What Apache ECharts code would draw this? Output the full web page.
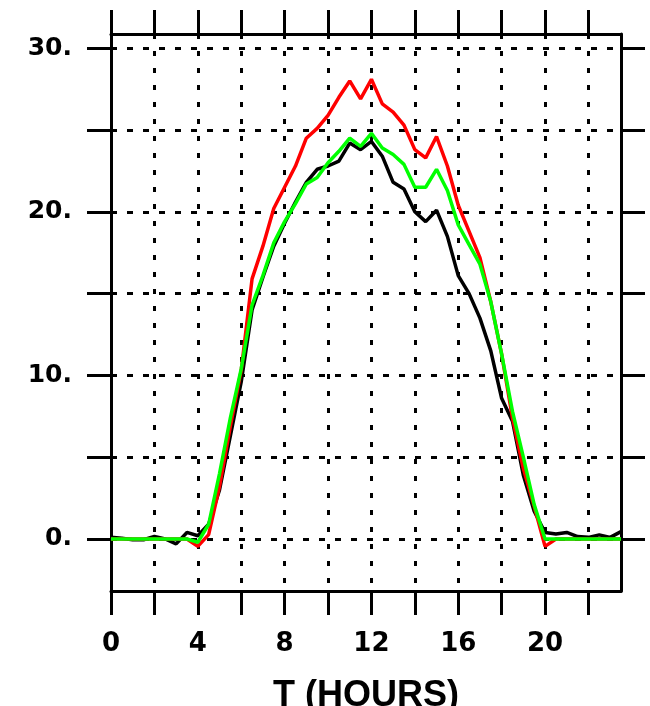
<!DOCTYPE html>
<html>
<head>
<meta charset="utf-8">
<script src="https://cdn.jsdelivr.net/npm/echarts@6/dist/echarts.min.js"></script>
<style>
  html, body { margin: 0; padding: 0; background: #fff; }
  #chart { width: 650px; height: 706px; }
</style>
</head>
<body>
<div id="chart"></div>
<script>
// Half-hourly times of day (hours)
const hours = [
  0, 0.5, 1, 1.5, 2, 2.5, 3, 3.5, 4, 4.5, 5, 5.5, 6, 6.5, 7, 7.5,
  8, 8.5, 9, 9.5, 10, 10.5, 11, 11.5, 12, 12.5, 13, 13.5, 14, 14.5, 15, 15.5,
  16, 16.5, 17, 17.5, 18, 18.5, 19, 19.5, 20, 20.5, 21, 21.5, 22, 22.5, 23, 23.5
];

const blackSeries = [
  0.1, 0.05, -0.05, -0.05, 0.15, 0.0, -0.3, 0.4, 0.2, 0.9, 3.0, 6.3, 9.6, 14.0, 16.0, 17.9,
  19.3, 20.6, 21.8, 22.6, 22.8, 23.1, 24.2, 23.8, 24.3, 23.4, 21.8, 21.4, 20.0, 19.4, 20.1, 18.5,
  16.1, 15.0, 13.5, 11.5, 8.6, 7.2, 3.9, 1.7, 0.4, 0.3, 0.4, 0.15, 0.1, 0.25, 0.1, 0.45
];

const redSeries = [
  0, 0, 0, 0, 0, 0, 0, 0, -0.45, 0.27, 3.2, 6.9, 10.3, 15.9, 17.9, 20.2,
  21.5, 22.8, 24.5, 25.1, 25.9, 27.0, 28.0, 26.9, 28.1, 26.6, 26.1, 25.3, 23.8, 23.3, 24.6, 22.8,
  20.4, 18.8, 17.2, 14.5, 11.3, 7.4, 4.3, 2.0, -0.45, 0, 0, 0, 0, 0, 0, 0
];

const greenSeries = [
  0, 0, 0, 0, 0, 0, 0, 0, -0.2, 0.9, 4.0, 7.4, 10.4, 14.3, 16.1, 18.1,
  19.4, 20.5, 21.7, 22.1, 23.0, 23.7, 24.5, 24.0, 24.8, 23.9, 23.5, 22.9, 21.5, 21.5, 22.6, 21.3,
  19.2, 18.0, 16.8, 14.5, 11.3, 7.8, 5.0, 2.1, 0, 0, 0, 0, 0, 0, 0, 0
];

// Tick positions and labelled values
const xTicks = [0, 2, 4, 6, 8, 10, 12, 14, 16, 18, 20, 22];
const xLabels = [0, 4, 8, 12, 16, 20];
const yTicks = [0, 5, 10, 15, 20, 25, 30];
const yLabels = [0, 10, 20, 30];

const xRange = [0, 23.5];
const yRange = [-3.18, 30.87];

const pairs = (vals) => hours.map((h, i) => [h, vals[i]]);

const frameLine = { show: true, onZero: false, lineStyle: { color: '#000', width: 3 } };
const tickStyle = { length: 24, lineStyle: { color: '#000', width: 3 } };
const labelFont = { color: '#000', fontFamily: 'DejaVu Sans', fontWeight: 'bold', fontSize: 25 };

const chart = echarts.init(document.getElementById('chart'), null, { renderer: 'canvas' });

chart.setOption({
  animation: false,
  backgroundColor: '#fff',
  grid: { left: 111, right: 29, top: 34, bottom: 115, containLabel: false, outerBoundsMode: 'none' },
  xAxis: [
    {
      type: 'value', position: 'bottom', min: xRange[0], max: xRange[1],
      axisLine: frameLine,
      axisTick: Object.assign({ show: true, inside: false, customValues: xTicks }, tickStyle),
      axisLabel: Object.assign({ show: true, margin: 40, customValues: xLabels,
        formatter: (v) => String(v) }, labelFont, { fontSize: 26 }),
      splitLine: { show: true, lineStyle: { color: '#000', width: 3, type: [5, 12] } },
      name: 'T (HOURS)', nameLocation: 'middle', nameGap: 87,
      nameTextStyle: { color: '#000', fontFamily: 'Liberation Sans', fontWeight: 'bold', fontSize: 36 }
    },
    {
      type: 'value', position: 'top', min: xRange[0], max: xRange[1],
      axisLine: frameLine,
      axisTick: Object.assign({ show: true, inside: false, customValues: xTicks }, tickStyle),
      axisLabel: { show: false },
      splitLine: { show: false }
    }
  ],
  yAxis: [
    {
      type: 'value', position: 'left', min: yRange[0], max: yRange[1],
      axisLine: frameLine,
      axisTick: Object.assign({ show: true, inside: false, customValues: yTicks }, tickStyle),
      axisLabel: Object.assign({ show: true, margin: 39, customValues: yLabels,
        formatter: (v) => v + '.' }, labelFont),
      splitLine: { show: true, lineStyle: { color: '#000', width: 3, type: [6, 10] } }
    },
    {
      type: 'value', position: 'right', min: yRange[0], max: yRange[1],
      axisLine: frameLine,
      axisTick: Object.assign({ show: true, inside: false, customValues: yTicks }, tickStyle),
      axisLabel: { show: false },
      splitLine: { show: false }
    }
  ],
  series: [
    { type: 'line', data: pairs(blackSeries), showSymbol: false, symbol: 'none',
      lineStyle: { color: '#000000', width: 3.5 }, z: 3 },
    { type: 'line', data: pairs(redSeries), showSymbol: false, symbol: 'none',
      lineStyle: { color: '#ff0000', width: 3.5 }, z: 4 },
    { type: 'line', data: pairs(greenSeries), showSymbol: false, symbol: 'none',
      lineStyle: { color: '#00ff00', width: 3.5 }, z: 5 }
  ]
});
</script>
</body>
</html>
